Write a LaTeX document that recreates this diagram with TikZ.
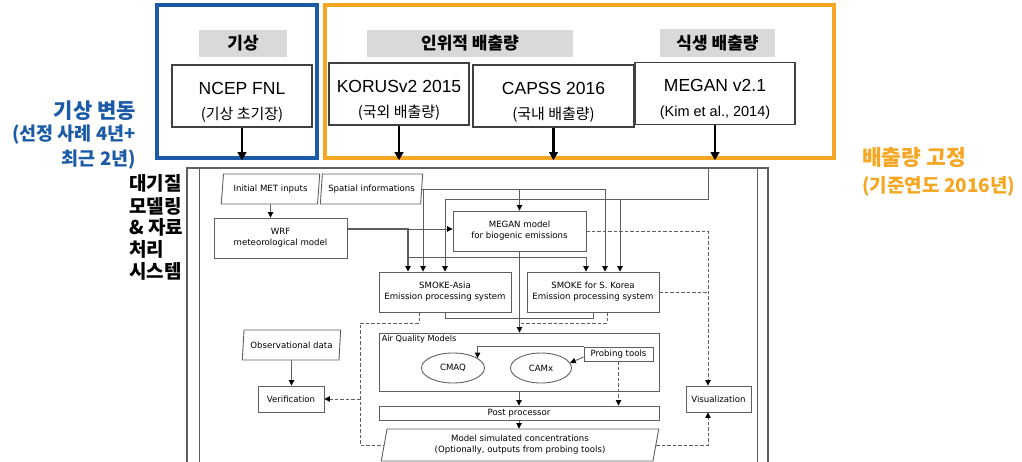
\documentclass[tikz,border=0pt]{standalone}
\usepackage{fontspec}
\setmainfont{Liberation Sans}
\newfontfamily\kr{Noto Sans CJK KR}
\newfontfamily\dv{DejaVu Sans}
\usetikzlibrary{arrows.meta,shapes.geometric,positioning}
\definecolor{metblue}{RGB}{27,90,166}
\definecolor{emisorange}{RGB}{245,166,35}
\definecolor{hdrgray}{RGB}{217,217,217}
\definecolor{linegray}{RGB}{95,95,95}
\newcommand\srcstrut{\rule{0pt}{24pt}}
\newcommand\srcsub{\kr\fontsize{15}{16}\selectfont}

\begin{document}
\begin{tikzpicture}[x=1pt,y=-1pt,
  >={Triangle[length=5.5pt,width=5.5pt,color=black]},
  hdr/.style={fill=hdrgray,minimum height=27,inner sep=0,font=\kr\bfseries\fontsize{17}{20}\selectfont},
  src/.style={draw=black!75,line width=1.2,fill=white,minimum height=62,inner sep=0,align=center,font=\fontsize{17.5}{25}\selectfont},
  grp/.style={draw,line width=4.5,inner sep=0},
  feed/.style={->,line width=2.6,>={Triangle[length=8pt,width=8.5pt]}},
  side/.style={inner sep=0,font=\kr\bfseries\fontsize{19}{20}\selectfont},
  box/.style={draw=linegray,line width=0.9,align=center,inner sep=1,font=\dv\fontsize{8.6}{11}\selectfont},
  para/.style={box,trapezium,trapezium left angle=80,trapezium right angle=100,trapezium stretches=true},
  flow/.style={->,draw=linegray,line width=0.9},
  opt/.style={flow,dash pattern=on 3.5pt off 2pt}]
   \useasboundingbox (0,0) rectangle (1022,462);

   % input groups
   \node[grp,draw=metblue,minimum width=160,minimum height=153] (metgrp) at (237,81.5) {};
   \node[grp,draw=emisorange,minimum width=509,minimum height=153] (emisgrp) at (579.5,81.5) {};
   \node[hdr,minimum width=88] (methdr) at (243,43.5) {기상};
   \node[hdr,minimum width=206] (anthdr) at (470,43.5) {인위적 배출량};
   \node[hdr,minimum width=115,minimum height=28] (biohdr) at (717.5,43) {식생 배출량};
   \node[src,minimum width=140] (ncep) at (242,96) {\srcstrut NCEP FNL\\{\srcsub(기상 초기장)}};
   \node[src,minimum width=140] (korus) at (399,94) {\srcstrut KORUSv2 2015\\{\srcsub(국외 배출량)}};
   \node[src,minimum width=161] (capss) at (553.5,96) {\srcstrut CAPSS 2016\\{\srcsub(국내 배출량)}};
   \node[src,minimum width=160] (megan) at (715,93.5) {\srcstrut MEGAN v2.1\\{\fontsize{14.5}{16}\selectfont(Kim et al., 2014)}};
   \draw[feed] (ncep) -- (ncep |- metgrp.south);
   \draw[feed] (korus) -- (korus |- emisgrp.south);
   \draw[feed] (capss) -- (capss |- emisgrp.south);
   \draw[feed] (megan) -- (megan |- emisgrp.south);

   % side notes
   \node[side,anchor=east,text=metblue,font=\kr\bfseries\fontsize{21}{24}\selectfont] (vartitle) at (136,111) {기상 변동};
   \node[side,anchor=east,text=metblue,font=\kr\bfseries\fontsize{18.5}{20}\selectfont] (varnote1) at (136,135) {(선정 사례 4년+};
   \node[side,anchor=east,text=metblue,font=\kr\bfseries\fontsize{18.5}{20}\selectfont] (varnote2) at (136,160) {최근 2년)};
   \node[side,anchor=west,text=emisorange,font=\kr\bfseries\fontsize{21.5}{24}\selectfont] (fixtitle) at (862,157) {배출량 고정};
   \node[side,anchor=west,text=emisorange,font=\kr\bfseries\fontsize{19}{20}\selectfont] (fixnote) at (862,186) {(기준연도 2016년)};
   \node[side,anchor=west] (sys1) at (129,183) {대기질};
   \node[side,anchor=west] (sys2) at (129,206) {모델링};
   \node[side,anchor=west] (sys3) at (129,227) {\& 자료};
   \node[side,anchor=west] (sys4) at (129,249) {처리};
   \node[side,anchor=west] (sys5) at (129,271) {시스템};

   % modelling system frame
   \draw[linegray,line width=1.2] (187,462) |- (768,168) -- (768,462);
   \draw[linegray,line width=0.8] (199,168) -- (199,462);
   \draw[linegray,line width=0.8] (757,168) -- (757,462);

   \node[para,minimum width=99,minimum height=30] (metin) at (270.5,189) {Initial MET inputs};
   \node[para,minimum width=103,minimum height=30] (spatial) at (371.5,189) {Spatial informations};
   \node[box,minimum width=133,minimum height=40] (wrf) at (280.5,238) {WRF\\meteorological model};
   \node[box,minimum width=133,minimum height=40] (meganmod) at (519.5,231) {MEGAN model\\for biogenic emissions};
   \node[box,minimum width=132,minimum height=40] (smokeas) at (445,292) {SMOKE-Asia\\Emission processing system};
   \node[box,minimum width=132,minimum height=40] (smokekr) at (593,292) {SMOKE for S. Korea\\Emission processing system};
   \node[box,minimum width=280,minimum height=58] (aqm) at (519,362) {};
   \node[anchor=north west,inner sep=3,font=\dv\fontsize{8.2}{10}\selectfont] (aqmlabel) at (aqm.north west) {Air Quality Models};
   \node[box,ellipse,minimum width=63,minimum height=30] (cmaq) at (453,368) {CMAQ};
   \node[box,ellipse,minimum width=61,minimum height=30] (camx) at (541,368) {CAMx};
   \node[box,minimum width=69,minimum height=14] (probe) at (618.5,354) {Probing tools};
   \node[box,minimum width=280,minimum height=14] (post) at (519,413) {Post processor};
   \node[para,fill=white,minimum width=278,minimum height=32] (modelout) at (520,445) {Model simulated concentrations\\(Optionally, outputs from probing tools)};
   \node[para,minimum width=99,minimum height=30] (obs) at (291.5,345) {Observational data};
   \node[box,minimum width=66,minimum height=26] (verif) at (291,399) {Verification};
   \node[box,minimum width=65,minimum height=26] (visual) at (718.5,399) {Visualization};

   \coordinate (wrfout) at ([yshift=9]wrf.east);
   \coordinate (wrfknee) at (408,257);
   \coordinate (emisin) at (708,168);
   \coordinate (emisrow) at (445,199);
   \coordinate (mergept) at (519.5,318);
   \coordinate (dashcol) at (360,323);

   \draw[flow] (metin) -- (metin |- wrf.north);
   \draw[flow] (wrfout) -- (wrfout -| meganmod.west);
   \draw[flow,line width=1.6] (wrfout) -| ([xshift=-37]smokeas.north);
   \draw[flow] (wrfknee) -| ([xshift=-7]smokekr.north);
   \draw[flow] (spatial.east) -| ([xshift=12]smokekr.north);
   \draw[flow] ([xshift=-22]smokeas.north |- spatial.east) -- ([xshift=-22]smokeas.north);
   \draw[flow] (meganmod.north |- spatial.east) -- (meganmod.north);
   \draw[flow] (emisin) |- (emisrow) -- (smokeas.north);
   \draw[flow] ([xshift=27]smokekr.north |- emisrow) -- ([xshift=27]smokekr.north);
   \draw[flow] (meganmod) -- (meganmod |- aqm.north);
   \draw[linegray,line width=0.9] (smokeas.south) |- (mergept);
   \draw[linegray,line width=0.9] (smokekr.south) |- (mergept);
   \draw[opt,-] ([xshift=-26]smokeas.south) |- (dashcol) |- (modelout.west);
   \draw[opt,-] ([xshift=14]smokekr.south) |- (mergept |- dashcol);
   \draw[opt] (dashcol |- verif.east) -- (verif.east);
   \draw[opt] (meganmod.east) -| ([xshift=-10.5]visual.north);
   \draw[opt,-] (smokekr.east) -- (smokekr.east -| emisin);
   \draw[opt] (modelout.east) -| ([xshift=-10.5]visual.south);
   \draw[flow] (aqm.south) -- (post.north);
   \draw[opt] (probe.south) -- (probe.south |- post.north);
   \draw[flow] (post.south) -- (post.south |- modelout.north);
   \draw[flow] ([yshift=-3]probe.west) -- (camx.10);
   \draw[flow] (probe.north west) -| (cmaq.22);
   \draw[flow] (obs) -- (obs |- verif.north);
\end{tikzpicture}
\end{document}
